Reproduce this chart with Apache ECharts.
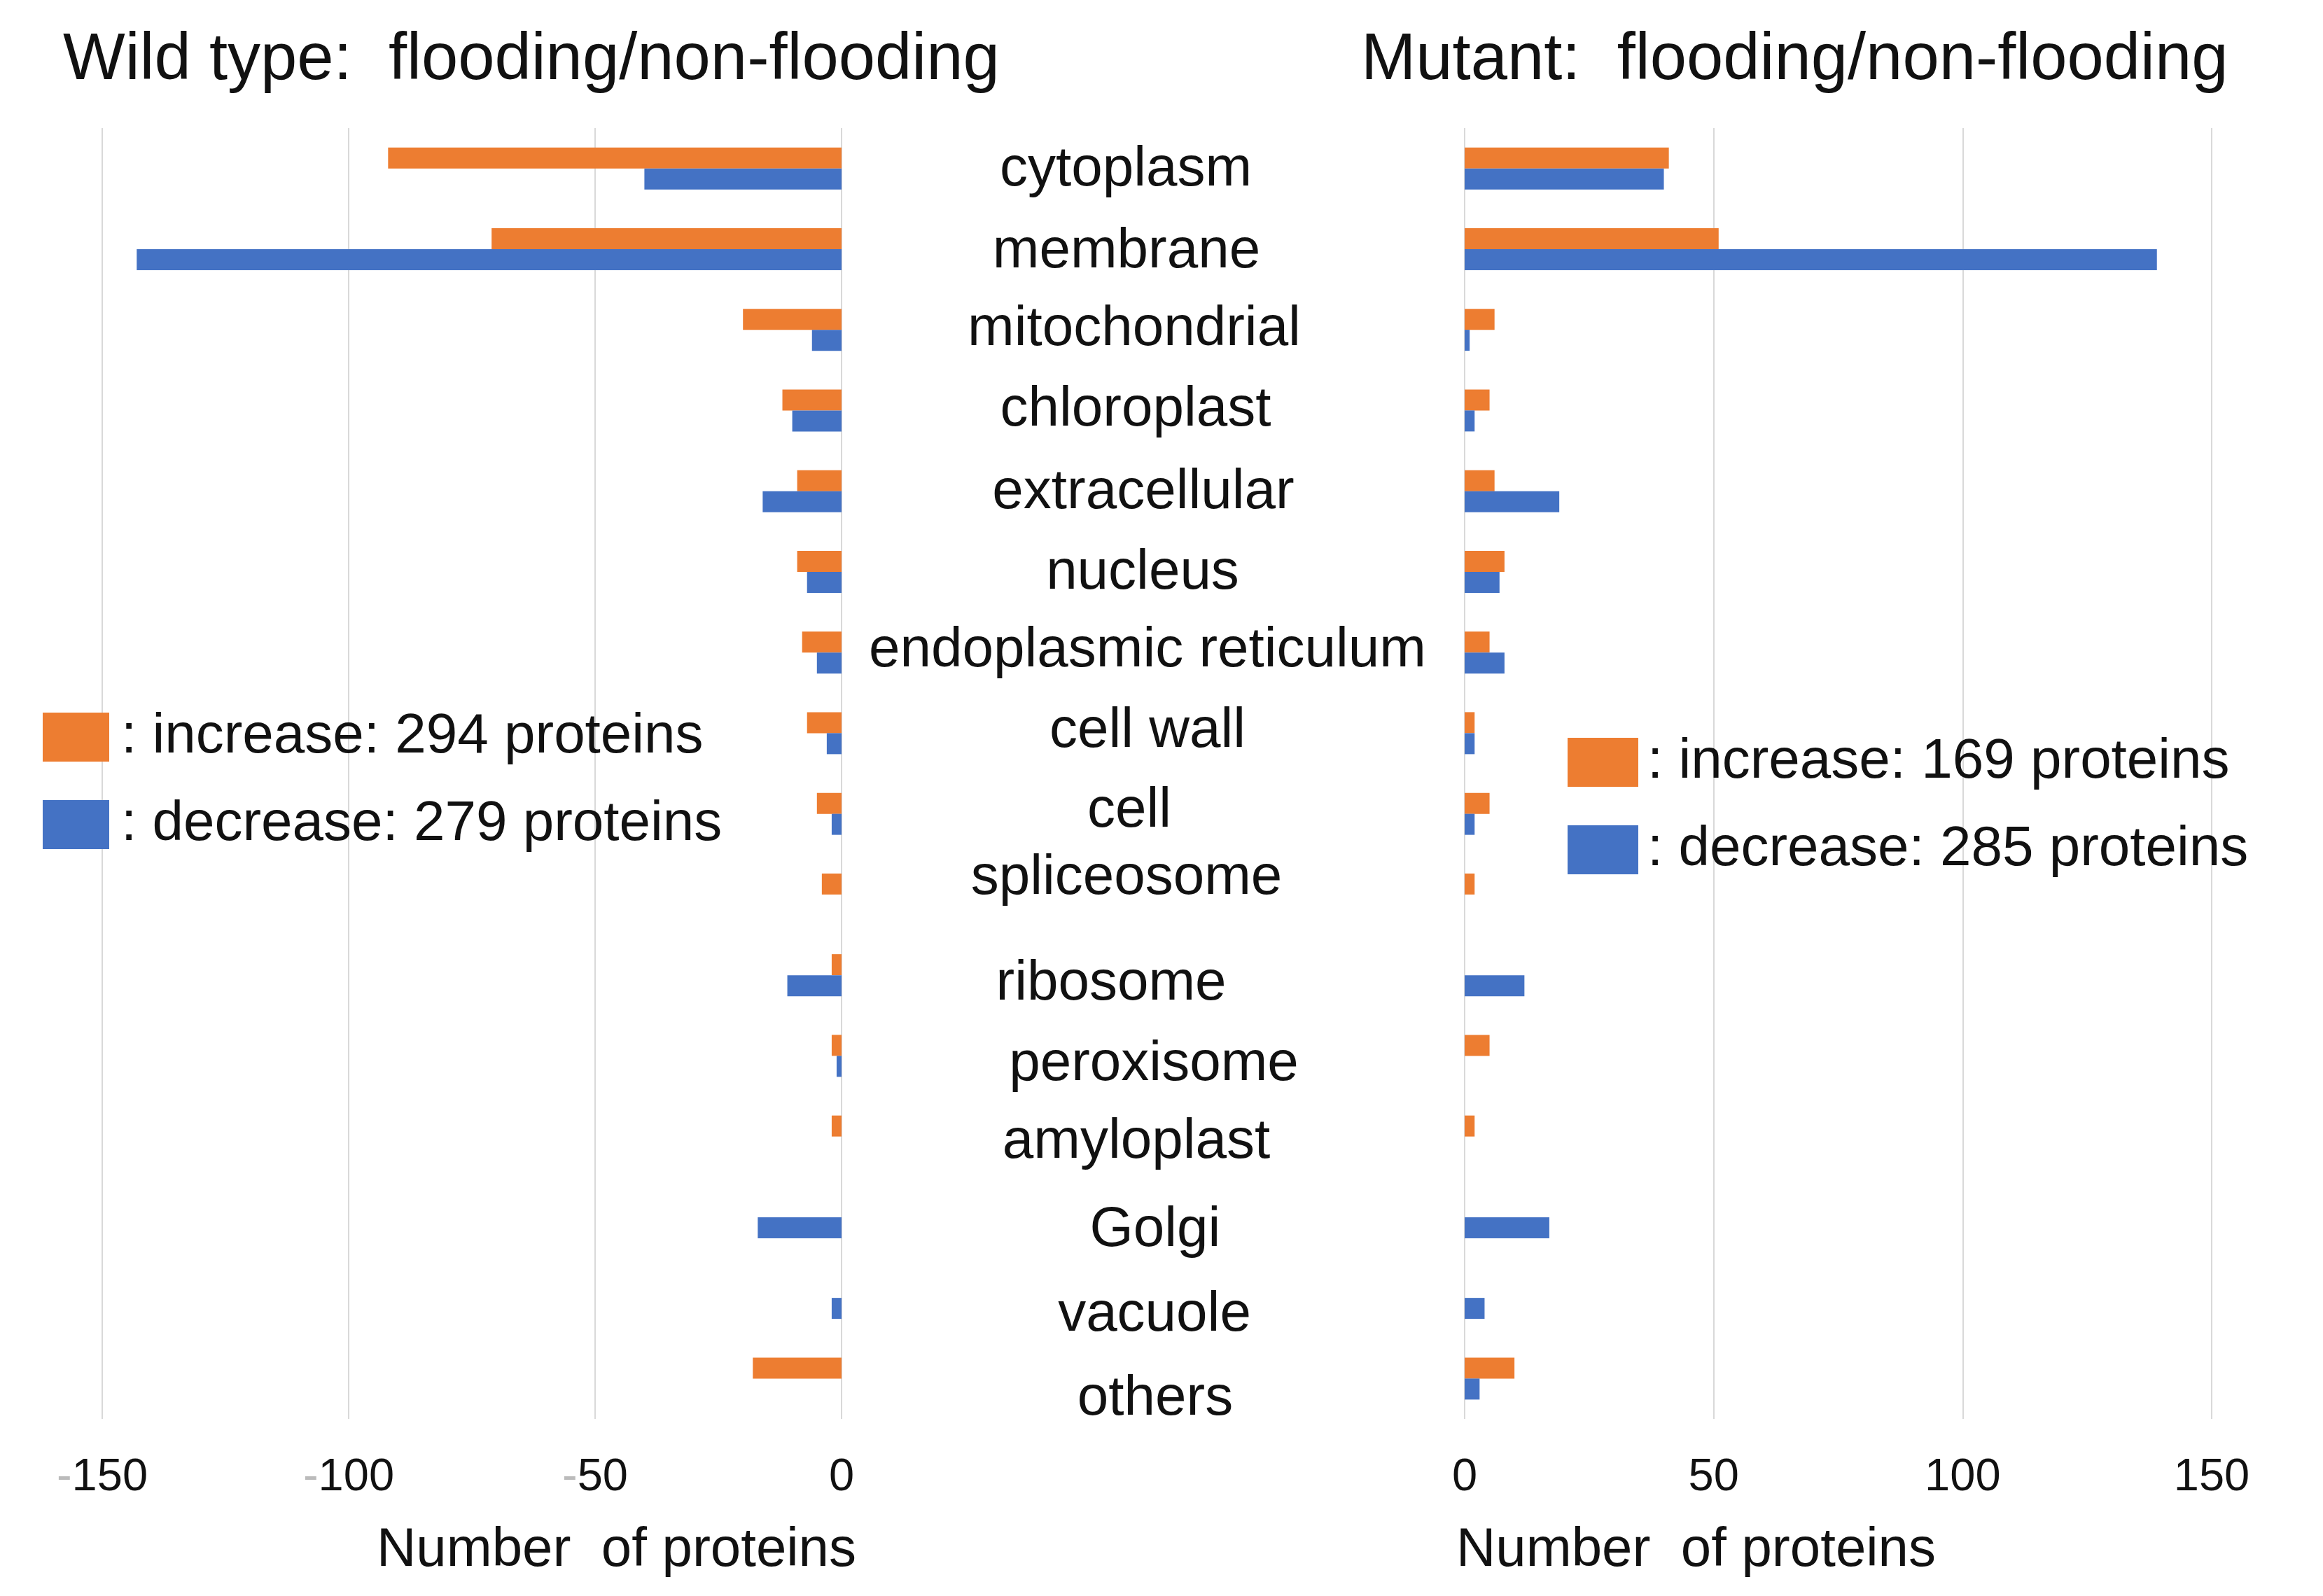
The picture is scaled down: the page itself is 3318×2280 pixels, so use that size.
<!DOCTYPE html>
<html>
<head>
<meta charset="utf-8">
<script src="https://cdn.jsdelivr.net/npm/echarts@6/dist/echarts.min.js"></script>
<style>
html,body{margin:0;padding:0;background:#fff;}
#chart{width:3318px;height:2280px;}
</style>
</head>
<body>
<div id="chart"></div>
<script>
const categories = ['cytoplasm','membrane','mitochondrial','chloroplast','extracellular','nucleus','endoplasmic reticulum','cell wall','cell','spliceosome','ribosome','peroxisome','amyloplast','Golgi','vacuole','others'];
const wtIncrease  = [92, 71, 20, 12, 9, 9, 8, 7, 5, 4, 2, 2, 2, 0, 0, 18];
const wtDecrease  = [40, 143, 6, 10, 16, 7, 5, 3, 2, 0, 11, 1, 0, 17, 2, 0];
const mutIncrease = [41, 51, 6, 5, 6, 8, 5, 2, 5, 2, 0, 5, 2, 0, 0, 10];
const mutDecrease = [40, 139, 1, 2, 19, 7, 8, 2, 2, 0, 12, 0, 0, 17, 4, 3];
const leftTicks = [-150, -100, -50, 0];
const rightTicks = [0, 50, 100, 150];
const wtTitle = 'Wild type:  flooding/non-flooding';
const mutTitle = 'Mutant:  flooding/non-flooding';
const axisName = 'Number  of proteins';
const wtIncName = ': increase: 294 proteins';
const wtDecName = ': decrease: 279 proteins';
const mutIncName = ': increase: 169 proteins';
const mutDecName = ': decrease: 285 proteins';

// label nudges (style only): [dx, dy] in px, mimicking the hand-placed labels
const labelNudge = [[-17,2],[-16,4],[-5,0],[-3,0],[8,2],[7,2],[14,-2],[14,-2],[-12,-4],[-16,-23],[-38,13],[23,13],[-2,8],[25,19],[24,25],[25,30]];

const ORANGE = '#ED7D31';
const BLUE = '#4472C4';
const FONT = '"Liberation Sans", Arial, sans-serif';
const GRIDC = '#d9d9d9';

const chart = echarts.init(document.getElementById('chart'));

function xAxisCfg(gi, mn, mx) {
  return {
    type: 'value', gridIndex: gi, min: mn, max: mx, interval: 50,
    axisLine: {show: false}, axisTick: {show: false},
    splitLine: {show: true, lineStyle: {color: GRIDC, width: 2}},
    axisLabel: {
      fontFamily: FONT, fontSize: 65, color: '#111', margin: 52,
      formatter: function (v) {
        return v < 0 ? '{m|-}' + Math.abs(v) : String(v);
      },
      rich: {m: {color: '#bbb', fontFamily: FONT, fontSize: 65}}
    }
  };
}

// rich styles for category labels: horizontal nudge by padding, vertical nudge by spacer line
const catRich = {};
labelNudge.forEach(function (n, i) {
  const dx = n[0], dy = n[1];
  catRich['c' + i] = {
    fontFamily: FONT, fontSize: 80, color: '#111', lineHeight: 90, align: 'center',
    padding: [0, Math.max(0, -2 * dx), 0, Math.max(0, 2 * dx)]
  };
  catRich['s' + i] = {fontFamily: FONT, fontSize: 2, color: 'rgba(0,0,0,0)', lineHeight: Math.max(1, 2 * Math.abs(dy))};
});

const barCommon = {type: 'bar', barWidth: 30, barGap: '0%'};

chart.setOption({
  backgroundColor: '#fff',
  animation: false,
  grid: [
    {left: 146, width: 1056, top: 183, height: 1844},
    {left: 2092, width: 1067, top: 183, height: 1844}
  ],
  xAxis: [xAxisCfg(0, -150, 0), xAxisCfg(1, 0, 150)],
  yAxis: [
    {
      type: 'category', gridIndex: 0, data: categories, inverse: true, position: 'right',
      axisLine: {show: false}, axisTick: {show: false}, splitLine: {show: false},
      axisLabel: {
        fontFamily: FONT, fontSize: 80, color: '#111', margin: 423, align: 'center', verticalAlign: 'middle', interval: 0,
        formatter: function (v, i) {
          const dy = labelNudge[i][1];
          const main = '{c' + i + '|' + v + '}';
          const sp = '{s' + i + '| }';
          if (dy > 0) return sp + '\n' + main;
          if (dy < 0) return main + '\n' + sp;
          return main;
        },
        rich: catRich
      }
    },
    {
      type: 'category', gridIndex: 1, data: categories, inverse: true,
      axisLine: {show: false}, axisTick: {show: false}, axisLabel: {show: false}, splitLine: {show: false}
    }
  ],
  legend: [
    {
      data: [wtIncName, wtDecName], orient: 'vertical', left: 56, top: 1008,
      itemWidth: 95, itemHeight: 70, itemGap: 45, icon: 'rect',
      textStyle: {fontFamily: FONT, fontSize: 80, color: '#111', padding: [0, 0, 0, 12]}
    },
    {
      data: [mutIncName, mutDecName], orient: 'vertical', left: 2234, top: 1044,
      itemWidth: 101, itemHeight: 70, itemGap: 45, icon: 'rect',
      textStyle: {fontFamily: FONT, fontSize: 80, color: '#111', padding: [0, 0, 0, 8]}
    }
  ],
  series: [
    Object.assign({}, barCommon, {name: wtIncName, xAxisIndex: 0, yAxisIndex: 0, data: wtIncrease.map(v => -v), itemStyle: {color: ORANGE}}),
    Object.assign({}, barCommon, {name: wtDecName, xAxisIndex: 0, yAxisIndex: 0, data: wtDecrease.map(v => -v), itemStyle: {color: BLUE}}),
    Object.assign({}, barCommon, {name: mutIncName, xAxisIndex: 1, yAxisIndex: 1, data: mutIncrease, itemStyle: {color: ORANGE}}),
    Object.assign({}, barCommon, {name: mutDecName, xAxisIndex: 1, yAxisIndex: 1, data: mutDecrease, itemStyle: {color: BLUE}})
  ],
  graphic: [
    {type: 'text', left: 90, top: 40, style: {text: wtTitle, font: '94px ' + FONT, fill: '#111'}},
    {type: 'text', left: 1944, top: 40, style: {text: mutTitle, font: '94px ' + FONT, fill: '#111'}},
    {type: 'text', right: 3318 - 1223, top: 2176, style: {text: axisName, font: '78px ' + FONT, fill: '#111'}},
    {type: 'text', left: 2080, top: 2176, style: {text: axisName, font: '78px ' + FONT, fill: '#111'}}
  ]
});
</script>
</body>
</html>
